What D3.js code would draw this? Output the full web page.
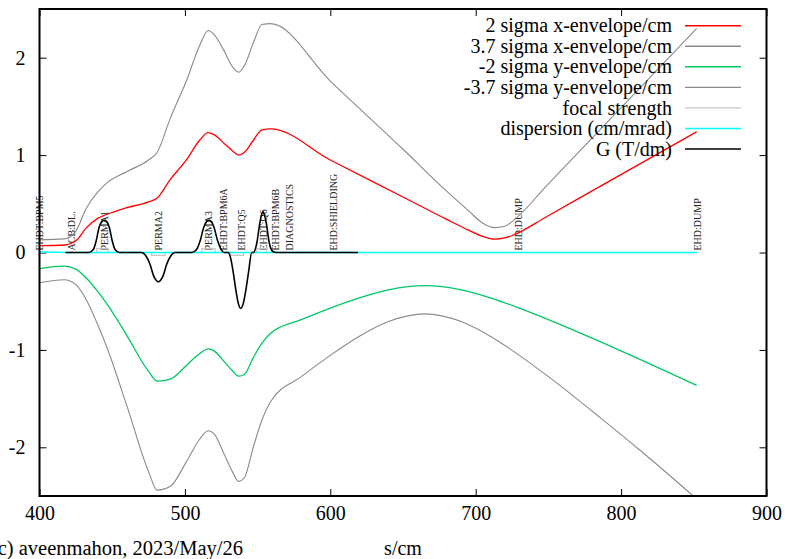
<!DOCTYPE html>
<html>
<head>
<meta charset="utf-8">
<script src="https://cdn.jsdelivr.net/npm/d3@7"></script>
<style>
  html, body { margin: 0; padding: 0; background: #fff; }
  svg { display: block; }
  text { font-family: "Liberation Serif", "Times New Roman", serif; }
</style>
</head>
<body>
<svg id="chart" width="785" height="559"></svg>
<script>
// ---- horizontal envelopes (s in cm) ----
const xS = [400,417,425,432,440,446,460,475,481,490,501,510,516,520,527,533,537,541,547,553,559,600,650,680,695,705,713,720,726,749,781,852];
const sigX2 = [0.07,0.077,0.12,0.25,0.35,0.39,0.46,0.52,0.56,0.75,0.95,1.15,1.23,1.21,1.12,1.04,1.00,1.03,1.15,1.26,1.27,0.95,0.57,0.34,0.23,0.165,0.138,0.15,0.18,0.37,0.64,1.24];
const sigX37 = [0.13,0.14,0.22,0.45,0.62,0.71,0.83,0.95,1.03,1.38,1.76,2.12,2.28,2.24,2.07,1.90,1.85,1.92,2.15,2.34,2.35,1.76,1.06,0.63,0.43,0.30,0.255,0.27,0.33,0.69,1.19,2.3];

// ---- vertical envelopes ----
const yS = [400,417,425,432,440,446,460,475,481,490,501,510,516,520,527,533,537,541,547,553,559,580,600,620,640,665,690,710,730,750,786,813,852];
const sigY2 = [-0.165,-0.14,-0.17,-0.26,-0.40,-0.52,-0.85,-1.22,-1.32,-1.30,-1.16,-1.04,-0.99,-1.01,-1.12,-1.22,-1.27,-1.25,-1.08,-0.93,-0.83,-0.69,-0.57,-0.465,-0.383,-0.34,-0.383,-0.465,-0.571,-0.689,-0.918,-1.097,-1.365];
const sigY37 = [-0.31,-0.28,-0.33,-0.48,-0.74,-0.96,-1.57,-2.25,-2.44,-2.40,-2.15,-1.92,-1.83,-1.86,-2.07,-2.26,-2.35,-2.31,-2.0,-1.72,-1.53,-1.275,-1.056,-0.86,-0.709,-0.63,-0.709,-0.86,-1.056,-1.275,-1.70,-2.03,-2.53];

// dispersion along the line
const dispS = [400,418,852.3];
const dispV = [0.008,0.0,0.0];

// field gradient G (T/dm)
const gS = [418,434,437,439,441,443,444.4,446,448,450,452,455,
            470,473,476,478.5,480.5,481.7,483,485,487.5,490.5,493,
            505,508,510.5,513,515,516.4,518,520,522.5,525,527,
            529.8,531.5,533.3,535,536.7,538.4,540.2,542,543.7,546,
            547,549.5,551.5,553.7,556,558,560.5,563,619];
const gV = [0,0,0.03,0.12,0.26,0.32,0.33,0.32,0.26,0.12,0.03,0,
            0,-0.03,-0.12,-0.24,-0.29,-0.30,-0.29,-0.24,-0.12,-0.03,0,
            0,0.03,0.12,0.26,0.32,0.33,0.32,0.26,0.12,0.03,0,
            0,-0.06,-0.21,-0.38,-0.52,-0.575,-0.52,-0.38,-0.21,0,
            0,0.1,0.3,0.42,0.3,0.1,0.01,0,0];

// focal strength per magnet: start, end, strength
const magStart = [439.3,477.2,511.6,531.5,549.5];
const magEnd   = [447.3,486.4,520.8,540.3,556.4];
const magK     = [0.04,-0.03,0.04,-0.03,0.04];

// element markers along the beam line
const elemNames = ["EHDT:BPM5","ACB:DL.","PERMA1","PERMA2","PERMA3","EHDT:BPM6A","EHDT:Q5","EHDT:Q6","EHDT:BPM6B","DIAGNOSTICS","EHD:SHIELDING","EHD:DUMP","EHD:DUMP"];
const elemS = [400.3,422.2,444.4,481.6,516.2,526.5,539.2,554,562,572,602.2,729.5,852.3];

// axis ticks and legend
const xTicks = [400,500,600,700,800,900];
const yTicks = [-2,-1,0,1,2];
const legendNames = ["2 sigma x-envelope/cm","3.7 sigma x-envelope/cm","-2 sigma y-envelope/cm","-3.7 sigma y-envelope/cm","focal strength","dispersion (cm/mrad)","G (T/dm)"];
const legendColors = ["#ff0000","#8a8a8a","#00c864","#8a8a8a","#c4c4c4","#00ffff","#000000"];

// ---- drawing ----
const svg = d3.select("#chart");
const L = 39.5, R = 766.5, T = 9, B = 496;
const x = d3.scaleLinear().domain([400, 900]).range([L, R]);
const y = d3.scaleLinear().domain([-2.5, 2.5]).range([B, T]);

svg.append("defs").append("clipPath").attr("id", "plotClip")
  .append("rect").attr("x", L).attr("y", T).attr("width", R - L).attr("height", B - T);

// axes (ticks pointing inward, mirrored on top/right)
const fmt = d => String(d);
svg.append("g").attr("transform", `translate(0,${B})`)
  .call(d3.axisBottom(x).tickValues(xTicks).tickSizeInner(-7).tickSizeOuter(0).tickPadding(10).tickFormat(fmt));
svg.append("g").attr("transform", `translate(0,${T})`)
  .call(d3.axisTop(x).tickValues(xTicks).tickSizeInner(-7).tickSizeOuter(0).tickFormat(""));
svg.append("g").attr("transform", `translate(${L},0)`)
  .call(d3.axisLeft(y).tickValues(yTicks).tickSizeInner(-7).tickSizeOuter(0).tickPadding(14).tickFormat(fmt));
svg.append("g").attr("transform", `translate(${R},0)`)
  .call(d3.axisRight(y).tickValues(yTicks).tickSizeInner(-7).tickSizeOuter(0).tickFormat(""));
svg.selectAll(".domain").remove();
svg.selectAll(".tick line").attr("stroke", "#000").attr("stroke-width", 1);
svg.selectAll(".tick text").attr("font-size", 20).attr("fill", "#000")
  .attr("font-family", "Liberation Serif, serif");

// element labels
elemNames.forEach((n, i) => {
  svg.append("text")
    .attr("transform", `translate(${x(elemS[i])},${y(0) - 2}) rotate(-90)`)
    .attr("dy", "0.35em")
    .attr("font-size", 10)
    .attr("fill", "#222")
    .text(n);
});

const plot = svg.append("g").attr("clip-path", "url(#plotClip)");
const zipS = (s, v) => s.map((d, i) => [d, v[i]]);

function drawSeries(data, color, width, curve) {
  const ln = d3.line().x(d => x(d[0])).y(d => y(d[1])).curve(curve || d3.curveMonotoneX);
  plot.append("path").datum(data)
    .attr("d", ln).attr("fill", "none")
    .attr("stroke", color).attr("stroke-width", width)
    .attr("stroke-linejoin", "round");
}

drawSeries(zipS(xS, sigX2), legendColors[0], 1.3);
drawSeries(zipS(xS, sigX37), legendColors[1], 1.1);
drawSeries(zipS(yS, sigY2), legendColors[2], 1.3);
drawSeries(zipS(yS, sigY37), legendColors[3], 1.1);

// focal strength as a step profile
const focal = [[400, 0]];
magStart.forEach((s0, i) => {
  focal.push([s0, 0], [s0, magK[i]], [magEnd[i], magK[i]], [magEnd[i], 0]);
});
focal.push([852.3, 0]);
drawSeries(focal, legendColors[4], 1.2, d3.curveLinear);

drawSeries(zipS(dispS, dispV), legendColors[5], 1.5, d3.curveLinear);
drawSeries(zipS(gS, gV), legendColors[6], 1.6, d3.curveMonotoneX);

// frame
svg.append("rect").attr("x", L).attr("y", T).attr("width", R - L).attr("height", B - T)
  .attr("fill", "none").attr("stroke", "#000").attr("stroke-width", 2);

// legend
const legY0 = 25.7, legDY = 20.55;
legendNames.forEach((n, i) => {
  const yy = legY0 + i * legDY;
  svg.append("text").attr("x", 672).attr("y", yy).attr("dy", "0.33em")
    .attr("text-anchor", "end").attr("font-size", 20).attr("fill", "#000").text(n);
  svg.append("line").attr("x1", 685).attr("x2", 741).attr("y1", yy).attr("y2", yy)
    .attr("stroke", legendColors[i]).attr("stroke-width", 1.4);
});

// axis title and credit line
svg.append("text").attr("x", 403).attr("y", 548).attr("dy", "0.33em")
  .attr("text-anchor", "middle").attr("font-size", 20).text("s/cm");
svg.append("text").attr("x", 243).attr("y", 548).attr("dy", "0.33em")
  .attr("text-anchor", "end").attr("font-size", 20.5).text("(c) aveenmahon, 2023/May/26");
</script>
</body>
</html>
